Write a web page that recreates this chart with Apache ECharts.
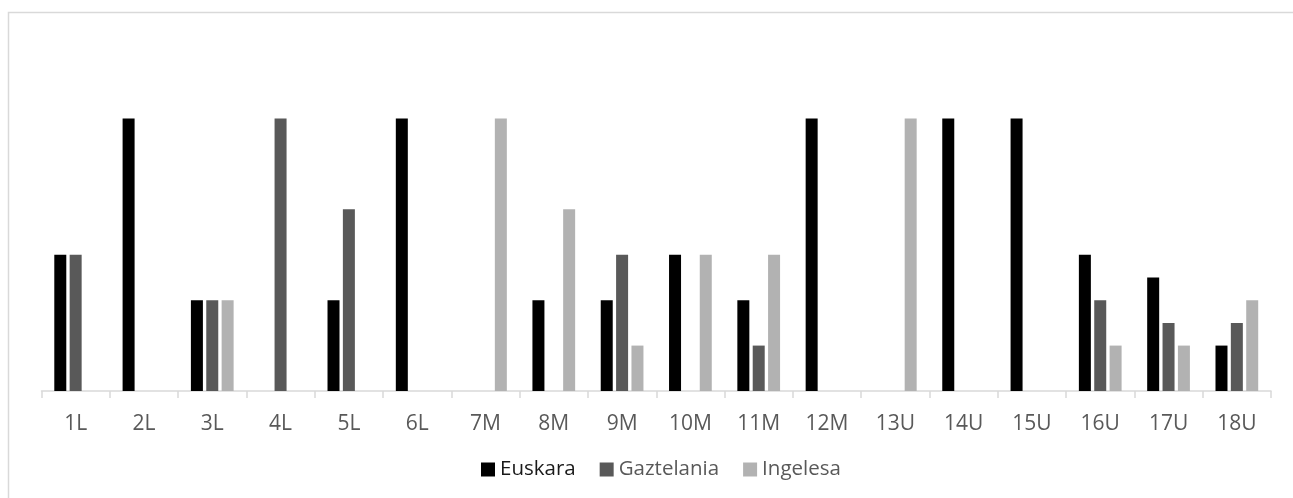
<!DOCTYPE html>
<html>
<head>
<meta charset="utf-8">
<title>Euskara, Gaztelania, Ingelesa</title>
<script src="https://cdn.jsdelivr.net/npm/echarts@6/dist/echarts.min.js"></script>
<style>
  html, body { margin: 0; padding: 0; background: #ffffff; }
  #chart { width: 1293px; height: 498px; }
</style>
</head>
<body>
<div id="chart"></div>
<script>
// Categories along the x axis
const categories = ['1L', '2L', '3L', '4L', '5L', '6L', '7M', '8M', '9M', '10M', '11M', '12M', '13U', '14U', '15U', '16U', '17U', '18U'];

// Share per language for each item
const euskara    = [1/2, 1, 1/3, 0, 1/3, 1, 0, 1/3, 1/3, 1/2, 1/3, 1, 0, 1, 1, 1/2, 5/12, 1/6];
const gaztelania = [1/2, 0, 1/3, 1, 2/3, 0, 0, 0, 1/2, 0, 1/6, 0, 0, 0, 0, 1/3, 1/4, 1/4];
const ingelesa   = [0, 0, 1/3, 0, 0, 0, 1, 2/3, 1/6, 1/2, 1/2, 0, 1, 0, 0, 1/6, 1/6, 1/3];

const seriesNames = ['Euskara', 'Gaztelania', 'Ingelesa'];
const seriesColors = ['#000000', '#595959', '#b2b2b2'];
const seriesData = [euskara, gaztelania, ingelesa];

const FONT = '"Open Sans", "Noto Sans", sans-serif';

const chart = echarts.init(document.getElementById('chart'), null, { renderer: 'canvas' });

chart.setOption({
  animation: false,
  backgroundColor: '#ffffff',
  graphic: [{
    type: 'rect',
    shape: { x: 8.5, y: 12.5, width: 1400, height: 600 },
    style: { fill: 'none', stroke: '#d9d9d9', lineWidth: 1.5 },
    silent: true
  }],
  grid: { left: 41.5, right: 22, top: 64, bottom: 107, containLabel: false },
  legend: {
    left: 476,
    top: 454,
    itemWidth: 14,
    itemHeight: 14,
    itemGap: 24,
    icon: 'rect',
    textStyle: { fontFamily: FONT, fontSize: 20.5, color: '#595959' },
    data: [
      { name: 'Euskara', textStyle: { color: '#1a1a1a' } },
      { name: 'Gaztelania' },
      { name: 'Ingelesa' }
    ]
  },
  xAxis: {
    type: 'category',
    data: categories,
    axisLine: { show: true, lineStyle: { color: '#d9d9d9', width: 1.5 } },
    axisTick: { show: true, length: 7, lineStyle: { color: '#d9d9d9', width: 1.5 } },
    axisLabel: { fontFamily: FONT, fontSize: 21, color: '#595959', margin: 23, interval: 0 },
    splitLine: { show: false }
  },
  yAxis: {
    type: 'value',
    min: 0,
    max: 1.2,
    show: false,
    splitLine: { show: false }
  },
  series: seriesNames.map((name, i) => ({
    name: name,
    type: 'bar',
    data: seriesData[i],
    barWidth: 12,
    barGap: '28%',
    itemStyle: { color: seriesColors[i] }
  }))
});
</script>
</body>
</html>
